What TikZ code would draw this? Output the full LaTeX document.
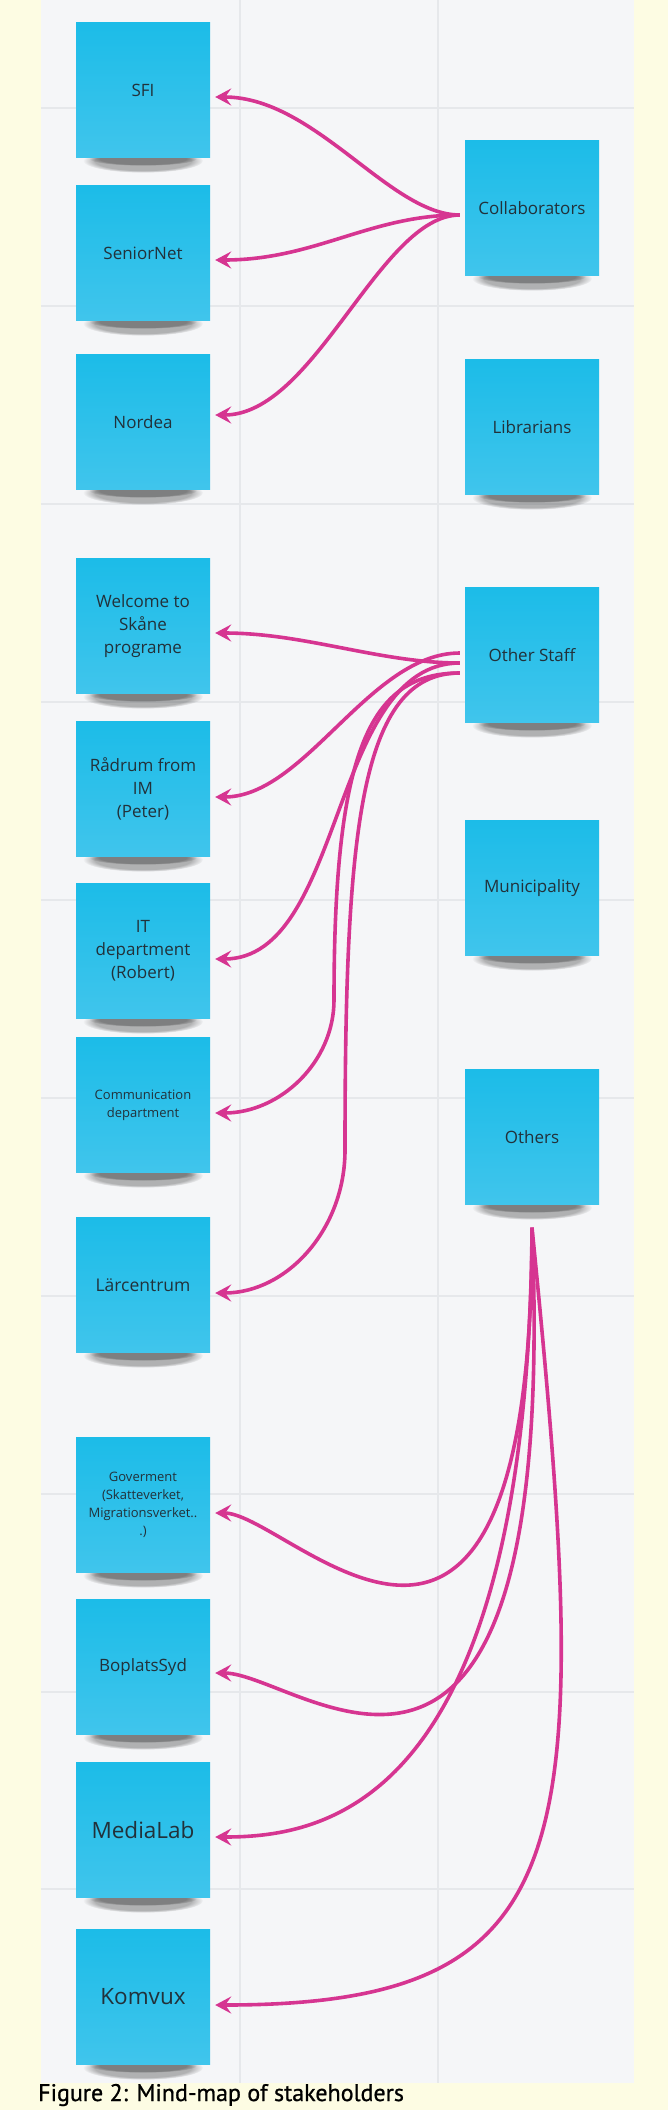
\documentclass[tikz,border=0pt]{standalone}
\usepackage{fontspec}
\newfontfamily\notefont{Open Sans}
\newfontfamily\capfont[FakeBold=0.8]{PT Sans}
\usetikzlibrary{arrows.meta,backgrounds,fadings}

\definecolor{pagebg}{HTML}{FDFCE3}
\definecolor{panelbg}{HTML}{F5F6F8}
\definecolor{gridline}{HTML}{E6E8EB}
\definecolor{notetop}{HTML}{1CBCE8}
\definecolor{notebot}{HTML}{40C5EC}
\definecolor{notetext}{HTML}{22313A}
\definecolor{linkpink}{HTML}{D63591}

\tikzset{
  note/.style={rectangle, minimum width=134pt, minimum height=135pt, inner sep=2pt,
    top color=notetop, bottom color=notebot, text=notetext, align=center,
    font=\notefont\fontsize{17}{23}\selectfont},
  bignote/.style={note, font=\notefont\fontsize{22.5}{28}\selectfont},
  smallnote/.style={note, font=\notefont\fontsize{13}{18}\selectfont},
  noteshadow/.style={fill=black, fill opacity=0.28, path fading=circle with fuzzy edge 20 percent},
  link/.style={draw=linkpink, line width=3.6pt, -{Stealth[length=16pt,width=17pt,inset=6pt]}},
  caption/.style={font=\capfont\fontsize{24}{28}\selectfont, text=black, inner sep=0pt}
}

\begin{document}
\begin{tikzpicture}[x=1pt,y=-1pt]

\useasboundingbox (0,0) rectangle (668,2110);

% Left column of notes
\node[note] (sfi) at (143,90) {SFI};
\node[note] (senior) at (143,253) {SeniorNet};
\node[note] (nordea) at (143,422) {Nordea};
\node[note] (welcome) at (143,626) {Welcome to\\Skåne\\programe};
\node[note] (radrum) at (143,789) {Rådrum from\\IM\\(Peter)};
\node[note] (itdept) at (143,951) {IT\\department\\(Robert)};
\node[smallnote] (comm) at (143,1105) {Communication\\department};
\node[note, font=\notefont\fontsize{17.5}{23}\selectfont] (larc) at (143,1285) {Lärcentrum};
\node[smallnote] (gov) at (143,1505) {Goverment\\(Skatteverket,\\Migrationsverket..\\.)};
\node[note] (boplats) at (143,1667) {BoplatsSyd};
\node[bignote] (media) at (143,1830) {MediaLab};
\node[bignote] (komvux) at (143,1997) {Komvux};

% Right column of notes
\node[note] (collab) at (532,208) {Collaborators};
\node[note] (libr) at (532,427) {Librarians};
\node[note] (staff) at (532,655) {Other Staff};
\node[note] (munic) at (532,888) {Municipality};
\node[note] (others) at (532,1137) {Others};

% Start points of the links
\coordinate (cstart) at ([xshift=-5pt,yshift=-7pt]collab.west);
\coordinate (sstart1) at ([xshift=-5pt,yshift=2pt]staff.west);
\coordinate (sstart2) at ([xshift=-5pt,yshift=-8pt]staff.west);
\coordinate (sstart3) at ([xshift=-5pt,yshift=-18pt]staff.west);
\coordinate (ostart) at ([yshift=-23pt]others.south);

% Bends of the two long links
\coordinate (commbend) at (334,1000);
\coordinate (larcbend) at (345,1150);

% Collaborators
\draw[link] (cstart) .. controls +(-70,0) and +(100,0) .. ([xshift=5pt,yshift=-7pt]sfi.east);
\draw[link] (cstart) .. controls +(-90,0) and +(100,0) .. ([xshift=5pt,yshift=-7pt]senior.east);
\draw[link] (cstart) .. controls +(-80,0) and +(100,0) .. ([xshift=5pt,yshift=7pt]nordea.east);

% Other Staff
\draw[link] (sstart2) .. controls +(-80,0) and +(90,0) .. ([xshift=5pt,yshift=-7pt]welcome.east);
\draw[link] (sstart1) .. controls +(-90,0) and +(90,0) .. ([xshift=5pt,yshift=-8pt]radrum.east);
\draw[link] (sstart2) .. controls +(-130,0) and +(130,0) .. ([xshift=5pt,yshift=-8pt]itdept.east);
\draw[link] (sstart3) .. controls +(-90,0) and +(0,-250) .. (commbend)
  .. controls +(0,62) and +(65,0) .. ([xshift=5pt,yshift=-8pt]comm.east);
\draw[link] (sstart3) .. controls +(-100,0) and +(0,-320) .. (larcbend)
  .. controls +(0,79) and +(72,0) .. ([xshift=5pt,yshift=-8pt]larc.east);

% Others
\draw[link] (ostart) .. controls +(0,573) and +(75,0) .. ([xshift=5pt,yshift=-8pt]gov.east);
\draw[link] (ostart) .. controls +(28,688) and +(85,0) .. ([xshift=5pt,yshift=-6pt]boplats.east);
\draw[link] (ostart) .. controls +(-4,573) and +(115,0) .. ([xshift=5pt,yshift=-7pt]media.east);
\draw[link] (ostart) .. controls +(62,623) and +(370,0) .. ([xshift=5pt,yshift=-8pt]komvux.east);

\node[caption, anchor=base west] (cap) at (38,2101) {Figure 2: Mind-map of stakeholders};

\begin{scope}[on background layer]
  \fill[pagebg] (0,0) rectangle (668,2110);
  \fill[panelbg] (40.5,0) rectangle (633.5,2083);
  % board grid
  \foreach \gy in {108,306,504,702,900,1098,1296,1494,1692,1889}
    \draw[gridline, line width=2pt] (40.5,\gy) -- (633.5,\gy);
  \foreach \gx in {240,438}
    \draw[gridline, line width=2pt] (\gx,0) -- (\gx,2083);
  % shadows under the notes
  \foreach \n in {sfi,senior,nordea,welcome,radrum,itdept,comm,larc,gov,boplats,media,komvux,collab,libr,staff,munic,others}{
    \fill[noteshadow] ([yshift=-3pt]\n.south) ellipse [x radius=60pt, y radius=12pt];
    \fill[noteshadow] ([yshift=-1pt]\n.south) ellipse [x radius=54pt, y radius=7pt];
  }
\end{scope}

\end{tikzpicture}
\end{document}
